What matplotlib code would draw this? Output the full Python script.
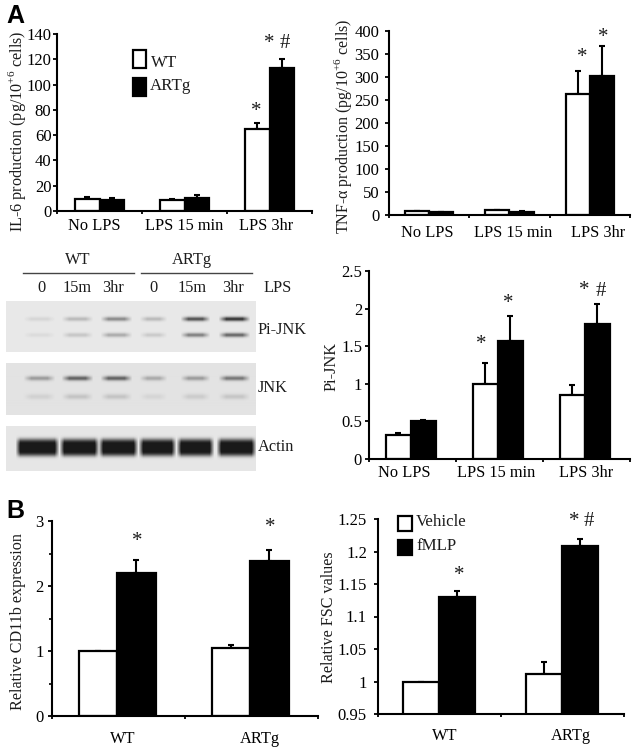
import numpy as np
import matplotlib
matplotlib.use("Agg")
import matplotlib.pyplot as plt
from matplotlib.patches import Rectangle

W, H = 637, 752
INK = "#1c1c1c"

plt.rcParams["font.family"] = ["Liberation Serif", "DejaVu Serif"]
plt.rcParams["font.size"] = 11.8
plt.rcParams["mathtext.fontset"] = "custom"
plt.rcParams["mathtext.rm"] = "Liberation Serif"
plt.rcParams["text.color"] = INK

lps_labels = ["No LPS", "LPS 15 min", "LPS 3hr"]
geno_labels = ["WT", "ARTg"]

il6_wt = [9.5, 9, 65]
il6_wt_err = [1.5, 0.8, 4.5]
il6_artg = [9, 10.5, 113]
il6_artg_err = [1.2, 2.5, 7]
il6_ticks = [0, 20, 40, 60, 80, 100, 120, 140]

tnf_wt = [8, 11, 262]
tnf_wt_err = [0.5, 0.5, 50]
tnf_artg = [6, 6, 303]
tnf_artg_err = [0.5, 2, 65]
tnf_ticks = [0, 50, 100, 150, 200, 250, 300, 350, 400]

jnk_wt = [0.32, 1.0, 0.85]
jnk_wt_err = [0.02, 0.28, 0.13]
jnk_artg = [0.51, 1.57, 1.8]
jnk_artg_err = [0.01, 0.33, 0.26]
jnk_ticks = [0, 0.5, 1, 1.5, 2, 2.5]
jnk_ticklabels = ["0", "0.5", "1", "1.5", "2", "2.5"]

cd11_veh = [1.0, 1.05]
cd11_veh_err = [0, 0.05]
cd11_fmlp = [2.2, 2.39]
cd11_fmlp_err = [0.2, 0.16]

fsc_veh = [1.0, 1.011]
fsc_veh_err = [0, 0.019]
fsc_fmlp = [1.13, 1.209]
fsc_fmlp_err = [0.009, 0.01]
fsc_ticks = [0.95, 1, 1.05, 1.1, 1.15, 1.2, 1.25]
fsc_ticklabels = ["0.95", "1", "1.05", "1.1", "1.15", "1.2", "1.25"]

# blot band strengths, one per lane
lane_x = [39, 77, 116, 153, 195, 234]
lane_hw = [16, 16, 16, 14, 15, 16]
actin_x = [37, 79, 118, 157, 195, 236]
actin_hw = [22, 20, 20, 19, 19, 20]
pjnk_upper = [0.1, 0.25, 0.5, 0.25, 0.8, 0.95]
pjnk_lower = [0.07, 0.18, 0.32, 0.16, 0.55, 0.68]
jnk_upper = [0.4, 0.72, 0.72, 0.32, 0.4, 0.6]
jnk_lower = [0.1, 0.17, 0.17, 0.08, 0.13, 0.16]
actin_band = [1.2, 1.2, 1.2, 1.2, 1.2, 1.2]

fig = plt.figure(figsize=(W / 100, H / 100), dpi=100)


def px_axes(left, top, right, bottom):
    return fig.add_axes([left / W, 1 - bottom / H, (right - left) / W, (bottom - top) / H])


def label(x, y, s, **kw):
    kw.setdefault("ha", "center")
    kw.setdefault("va", "center")
    fig.text(x / W, 1 - y / H, s, **kw)


def swatch(x, y, w, h, color):
    fig.add_artist(Rectangle((x / W, 1 - (y + h) / H), w / W, h / H, transform=fig.transFigure,
                             facecolor=color, edgecolor="black", linewidth=1.6))


def bars(ax, y1, e1, y2, e2, width, names, name_x, name_pad, shift=0.0, ypad=2):
    x = np.arange(len(y1)) + 0.5 + shift
    ax.bar(x - width / 2, y1, width, color="white", edgecolor="black", linewidth=1.6, zorder=2)
    ax.bar(x + width / 2, y2, width, color="black", edgecolor="black", linewidth=1.6, zorder=2)
    for xs, ys, es in ((x - width / 2, y1, e1), (x + width / 2, y2, e2)):
        ax.errorbar(xs, ys, yerr=[np.zeros(len(es)), es], fmt="none", ecolor="black",
                    elinewidth=1.5, capsize=2, capthick=1.5, zorder=1)
    ax.set_xlim(0, len(y1))
    ax.set_xticks(np.arange(len(y1) + 1))
    ax.set_xticklabels([])
    ax.set_xticks(name_x, minor=True)
    ax.set_xticklabels(names, minor=True)
    for side in ("top", "right"):
        ax.spines[side].set_visible(False)
    for side in ("left", "bottom"):
        ax.spines[side].set_linewidth(1.5)
    ax.tick_params(axis="x", which="major", length=2.5, width=1.3)
    ax.tick_params(axis="x", which="minor", length=0, pad=name_pad)
    ax.tick_params(axis="y", length=3, width=1.3, pad=ypad, labelsize=12)


# IL-6
ax = px_axes(57, 34, 312, 211)
bars(ax, il6_wt, il6_wt_err, il6_artg, il6_artg_err, 0.29, lps_labels, [0.435, 1.49, 2.46], 5, ypad=1)
ax.set_ylim(0, 140)
ax.set_yticks(il6_ticks)
label(17, 131, "IL-6 production (pg/10$^{\\mathrm{+6}}$ cells)", rotation=90, fontsize=11.6)
label(256, 111, "*", fontsize=15)
label(269, 43, "*", fontsize=15)
label(285, 44, "#", fontsize=15)

# TNF
ax = px_axes(389, 31, 630, 215)
bars(ax, tnf_wt, tnf_wt_err, tnf_artg, tnf_artg_err, 0.3, lps_labels, [0.47, 1.55, 2.6], 7, ypad=4)
ax.set_ylim(0, 400)
ax.set_yticks(tnf_ticks)
label(343, 126, "TNF-α production (pg/10$^{\\mathrm{+6}}$ cells)", rotation=90, fontsize=11.5)
label(582, 57, "*", fontsize=15)
label(603, 38, "*", fontsize=15)

# Pi-JNK
ax = px_axes(369, 271, 630, 459)
bars(ax, jnk_wt, jnk_wt_err, jnk_artg, jnk_artg_err, 0.29, lps_labels, [0.41, 1.46, 2.5], 4, shift=-0.02)
ax.set_ylim(0, 2.5)
ax.set_yticks(jnk_ticks)
ax.set_yticklabels(jnk_ticklabels)
label(332, 367, "Pi-JNK", rotation=90, fontsize=11.8)
label(481, 345, "*", fontsize=15)
label(508, 304, "*", fontsize=15)
label(584, 290, "*", fontsize=15)
label(601, 292, "#", fontsize=15)


# blots
def blot(left, top, right, bottom, background, rows, xs=lane_x, hws=lane_hw, soft=8.0, power=2):
    yy, xx = np.mgrid[0:bottom - top, 0:right - left]
    img = np.full(yy.shape, background, dtype=float)
    for strengths, row_y, sigma in rows:
        for lx, hw, s in zip(xs, hws, strengths):
            edge = np.clip((hw - np.abs(xx + left - lx)) / soft, 0, 1)
            img -= s * 0.72 * edge * np.exp(-np.abs((yy - row_y) / sigma) ** power)
    ax = px_axes(left, top, right, bottom)
    ax.imshow(np.clip(img, 0.1, 1), cmap="gray", vmin=0, vmax=1, aspect="auto", interpolation="bilinear")
    ax.axis("off")


blot(6, 301, 256, 352, 0.91, [(pjnk_upper, 17.5, 2.2), (pjnk_lower, 33.5, 2.2)])
blot(6, 363, 256, 415, 0.89, [(jnk_upper, 15.5, 2.2), (jnk_lower, 33.5, 2.6)])
blot(6, 426, 256, 471, 0.90, [(actin_band, 21, 8.5)], actin_x, actin_hw, 5.0, power=4)

fig.add_artist(plt.Line2D([23 / W, 134 / W], [1 - 273 / H] * 2, color="#444444", lw=1.0))
fig.add_artist(plt.Line2D([141 / W, 252 / W], [1 - 273 / H] * 2, color="#444444", lw=1.0))
label(78, 260, "WT")
label(192, 260, "ARTg")
for xp, s in zip([42, 77, 113, 153, 192, 233], ["0", "15m", "3hr", "0", "15m", "3hr"]):
    label(xp, 288, s)
label(278, 288, "LPS")
label(258, 330, "Pi-JNK", ha="left")
label(258, 388, "JNK", ha="left")
label(258, 447, "Actin", ha="left")

# CD11b
ax = px_axes(52, 521, 318, 716)
bars(ax, cd11_veh, cd11_veh_err, cd11_fmlp, cd11_fmlp_err, 0.29, geno_labels, [0.53, 1.56], 11, shift=-0.01, ypad=3)
ax.set_ylim(0, 3)
ax.set_yticks([0, 1, 2, 3])
ax.set_yticks([0.5, 1.5, 2.5], minor=True)
ax.tick_params(axis="y", which="minor", length=2, width=1.2)
label(18, 622, "Relative CD11b expression", rotation=90, fontsize=11.6)
label(137, 542, "*", fontsize=15)
label(270, 528, "*", fontsize=15)

# FSC
ax = px_axes(378, 519, 624, 714)
bars(ax, fsc_veh, fsc_veh_err, fsc_fmlp, fsc_fmlp_err, 0.29, geno_labels, [0.54, 1.57], 10, shift=-0.005, ypad=5)
ax.set_ylim(0.95, 1.25)
ax.set_yticks(fsc_ticks)
ax.set_yticklabels(fsc_ticklabels)
label(329, 617, "Relative FSC values", rotation=90, fontsize=11.6)
label(459, 575, "*", fontsize=15)
label(574, 521, "*", fontsize=15)
label(589, 522, "#", fontsize=15)

# legends
swatch(133, 50, 13, 18, "white")
swatch(133, 78, 13, 18, "black")
label(151, 63, "WT", ha="left", fontsize=12.2)
label(150, 86, "ARTg", ha="left", fontsize=12.2)
swatch(398, 516, 14, 15, "white")
swatch(398, 540, 14, 15, "black")
label(416, 522, "Vehicle", ha="left", fontsize=12.2)
label(416, 546, "fMLP", ha="left", fontsize=12.2)

label(6, 16, "A", ha="left", fontsize=18, fontweight="bold", family="Liberation Sans", color="black")
label(6, 511, "B", ha="left", fontsize=18, fontweight="bold", family="Liberation Sans", color="black")

fig.savefig("out.png", dpi=100)
